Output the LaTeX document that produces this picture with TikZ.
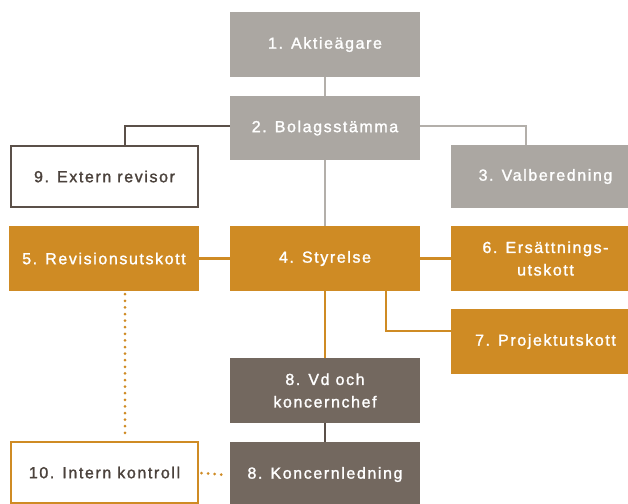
\documentclass[tikz,border=0pt]{standalone}
\usepackage{fontspec}
\setmainfont{Liberation Sans}[LetterSpace=10,FakeBold=1.5]
\definecolor{boxgray}{HTML}{ABA7A2}
\definecolor{boxorange}{HTML}{CF8B24}
\definecolor{boxbrown}{HTML}{73685F}
\definecolor{linegray}{HTML}{B3AFAA}
\definecolor{linedark}{HTML}{5B5049}
\definecolor{textdark}{HTML}{4B423C}
\tikzset{
  x=1pt, y=-1pt,
  base/.style={minimum width=190pt, minimum height=65pt, inner sep=0pt, align=center,
    font=\fontsize{16}{22.5}\selectfont},
  graybox/.style={base, fill=boxgray, text=white},
  orangebox/.style={base, fill=boxorange, text=white},
  brownbox/.style={base, fill=boxbrown, text=white},
  outlinebox/.style={base, minimum width=187pt, minimum height=61pt, fill=white, line width=2pt, text=textdark},
  conn/.style={line width=2.2pt},
  dotline/.style={boxorange, line width=3pt, line cap=round, dash pattern=on 0pt off 6.6pt},
}
\begin{document}
\begin{tikzpicture}
\clip (0,0) rectangle (628,503);
\fill[white] (0,0) rectangle (628,503);
\node[graybox] (b1) at (325,44.5) {1. Aktieägare};
\node[graybox, minimum height=64pt] (b2) at (325,128) {2. Bolagsstämma};
\node[outlinebox, draw=linedark] (b9) at (104.5,176.5) {9. Extern revisor};
\node[graybox, minimum width=189pt, minimum height=63pt] (b3) at (545.5,176.5) {3. Valberedning};
\node[orangebox] (b4) at (325,258.5) {4. Styrelse};
\node[orangebox] (b5) at (104,258.5) {5. Revisionsutskott};
\node[orangebox, minimum width=189pt] (b6) at (545.5,258.5) {6. Ersättnings-\\utskott};
\node[orangebox, minimum width=189pt] (b7) at (545.5,341.5) {7. Projektutskott};
\node[brownbox] (b8a) at (325,390.5) {8. Vd och\\koncernchef};
\node[brownbox] (b8b) at (325,474.5) {8. Koncernledning};
\node[outlinebox, draw=boxorange] (b10) at (104.5,472.5) {10. Intern kontroll};
\draw[conn, linegray] (b1.south) -- (b2.north);
\draw[conn, linedark] ([yshift=2pt]b2.west) -| ([xshift=20.5pt]b9.north);
\draw[conn, linegray] ([yshift=2pt]b2.east) -| ([xshift=-19.5pt]b3.north);
\draw[conn, linegray] (b2.south) -- (b4.north);
\draw[conn, boxorange] (b4.west) -- (b5.east);
\draw[conn, boxorange] (b4.east) -- (b6.west);
\draw[conn, boxorange] ([xshift=61pt]b4.south) |- ([yshift=10.5pt]b7.west);
\draw[conn, boxorange] (b4.south) -- (b8a.north);
\draw[conn, linedark] (b8a.south) -- (b8b.north);
\draw[dotline] ([xshift=21pt,yshift=-3pt]b5.south) -- ([xshift=20.5pt,yshift=3.5pt]b10.north);
\draw[dotline] ([xshift=2.5pt,yshift=-0.5pt]b10.east) -- ([xshift=-3pt,yshift=-0.5pt]b8b.west);
\end{tikzpicture}
\end{document}
